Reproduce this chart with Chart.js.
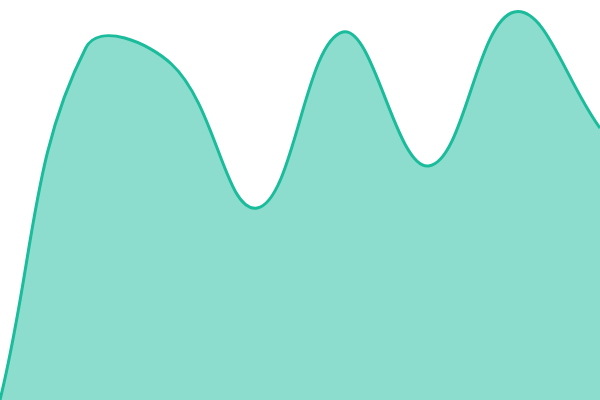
<!DOCTYPE html>
<html>
<head>
<meta charset="utf-8">
<script src="https://cdn.jsdelivr.net/npm/chart.js@4"></script>
<style>
  html, body { margin: 0; padding: 0; background: #fff; }
  #wrap { width: 600px; height: 400px; }
</style>
</head>
<body>
<div id="wrap"><canvas id="areaChart"></canvas></div>
<script>
const labels = ['1', '2', '3', '4', '5', '6', '7', '8']
const values = [0, 88, 84, 48, 92, 58.5, 97, 68]

const ctx = document.getElementById('areaChart').getContext('2d')
new Chart(ctx, {
    type: 'line',
    data: {
        labels: labels,
        datasets: [{
            data: values,
            borderColor: '#1abc9c',
            backgroundColor: 'rgba(26, 188, 156, 0.5)',
            borderWidth: 3,
            fill: 'origin',
            tension: 0.4,
            pointRadius: 0,
        }],
    },
    options: {
        responsive: true,
        maintainAspectRatio: false,
        animation: false,
        layout: { padding: 0 },
        scales: {
            x: { display: false, offset: false },
            y: { display: false, min: 0, max: 100 },
        },
        plugins: {
            legend: { display: false },
            tooltip: { enabled: false },
        },
    },
})
</script>
</body>
</html>
